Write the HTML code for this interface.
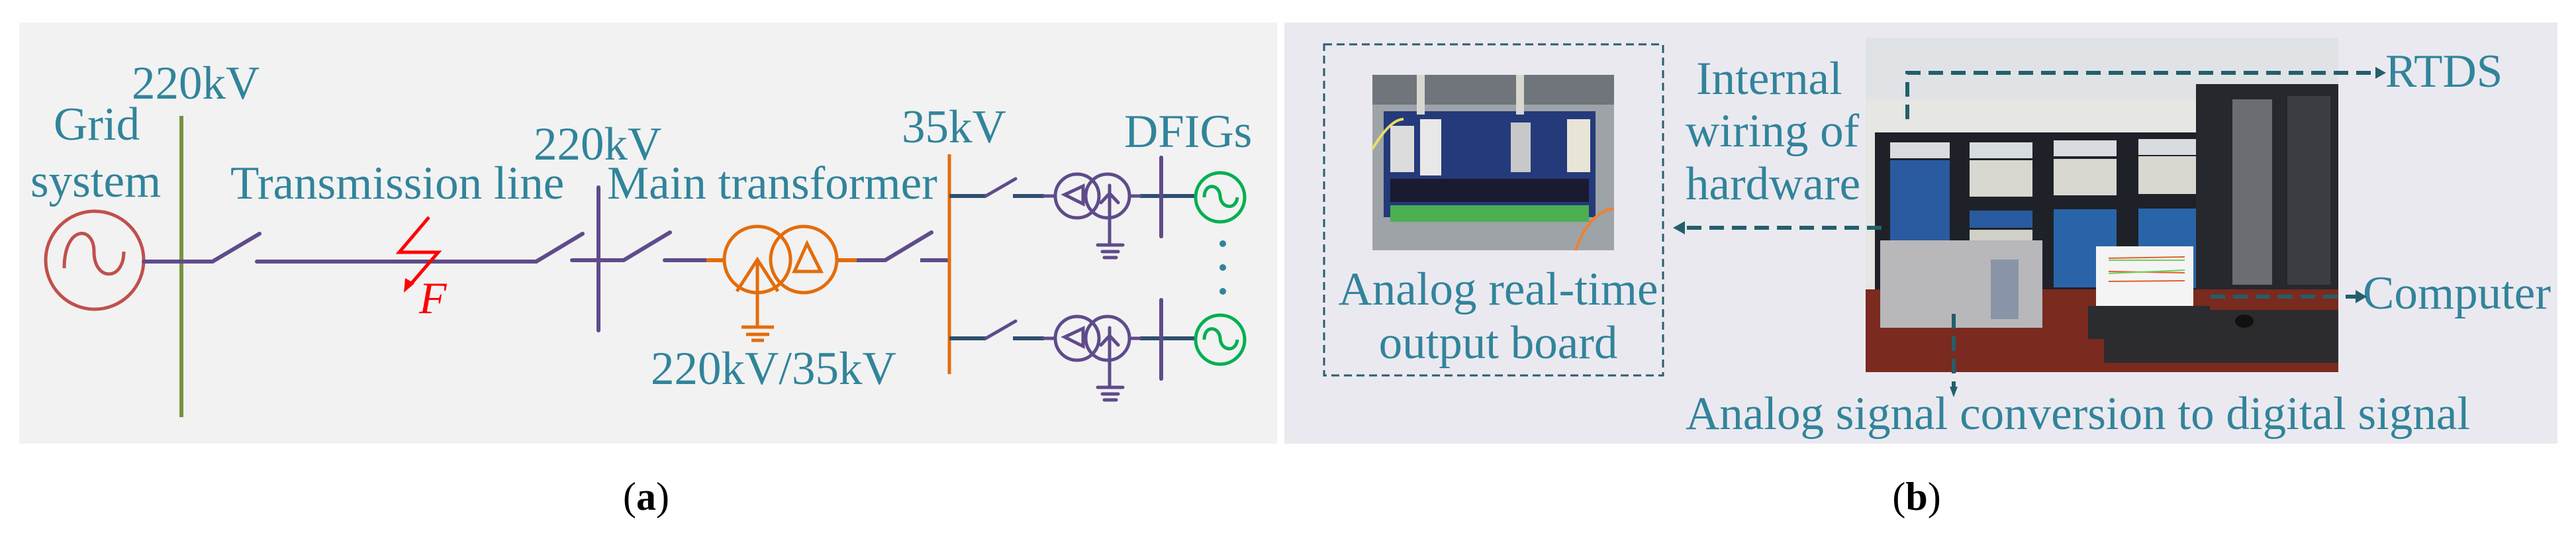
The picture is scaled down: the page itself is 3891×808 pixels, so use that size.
<!DOCTYPE html>
<html><head><meta charset="utf-8"><style>
html,body{margin:0;padding:0;background:#fff;}
svg{display:block;}
text{font-family:"Liberation Serif",serif;}
</style></head><body>
<svg width="3891" height="808" viewBox="0 0 3891 808" xmlns="http://www.w3.org/2000/svg">
<rect x="29" y="34" width="1900" height="636" fill="#f2f2f2"/>
<rect x="1940" y="34" width="1923" height="636" fill="#ebe9f0"/>

<g fill="#31849b" font-size="71">
<text x="199" y="149">220kV</text>
<text x="81" y="211">Grid</text>
<text x="46" y="297">system</text>
<text x="348" y="300">Transmission line</text>
<text x="806" y="241">220kV</text>
<text x="917" y="300">Main transformer</text>
<text x="1362" y="215">35kV</text>
<text x="1698" y="222">DFIGs</text>
<text x="983" y="580">220kV/35kV</text>
</g>

<!-- grid source -->
<circle cx="143" cy="393" r="74" fill="none" stroke="#c0504d" stroke-width="5"/>
<path d="M100 405 C100 340 145 340 145 380 C145 425 190 425 190 380" fill="none" stroke="#c0504d" stroke-width="5" transform="translate(-3,0)"/>
<line x1="274" y1="175" x2="274" y2="630" stroke="#77933c" stroke-width="6"/>

<g stroke="#5f4b8b" stroke-width="6" stroke-linecap="round" fill="none">
<line x1="217" y1="395" x2="321" y2="395"/>
<line x1="321" y1="395" x2="392" y2="353"/>
<line x1="388" y1="395" x2="810" y2="395"/>
<line x1="810" y1="395" x2="880" y2="353"/>
<line x1="904" y1="283" x2="904" y2="499"/>
<line x1="864" y1="393" x2="942" y2="393"/>
<line x1="942" y1="393" x2="1012" y2="351"/>
<line x1="1004" y1="393" x2="1067" y2="393"/>
<line x1="1294" y1="393" x2="1337" y2="393"/>
<line x1="1337" y1="393" x2="1407" y2="351"/>
</g>
<line x1="1390" y1="393" x2="1433" y2="393" stroke="#5f4b8b" stroke-width="6"/>

<!-- fault -->
<g stroke="#ff0000" stroke-width="5" fill="none">
<polyline points="648,328 603,381 662,381 618,432"/>
</g>
<polygon points="610,442 612,420 626,428" fill="#ff0000"/>
<text x="633" y="473" font-size="68" font-style="italic" fill="#ff0000">F</text>

<!-- main transformer -->
<g stroke="#e46c0a" stroke-width="5" fill="none">
<line x1="1067" y1="393" x2="1095" y2="393" stroke-width="6"/>
<line x1="1263" y1="393" x2="1294" y2="393" stroke-width="6"/>
<circle cx="1144" cy="392" r="50"/>
<circle cx="1214" cy="392" r="50"/>
<polyline points="1113,440 1144,392 1175,440"/>
<line x1="1144" y1="392" x2="1144" y2="494"/>
<line x1="1120" y1="494" x2="1169" y2="494"/>
<line x1="1127" y1="505" x2="1162" y2="505"/>
<line x1="1135" y1="514" x2="1154" y2="514"/>
<polygon points="1219,368 1200,410 1240,410"/>
<line x1="1434" y1="233" x2="1434" y2="565" stroke-width="5"/>
</g>

<!-- DFIG branches -->
<g id="br">
<g stroke="#2f4f6f" stroke-width="6">
<line x1="1434" y1="296" x2="1489" y2="296"/>
<line x1="1530" y1="296" x2="1577" y2="296"/>
<line x1="1722" y1="296" x2="1808" y2="296"/>
</g>
<g stroke="#5f4b8b" stroke-width="5" fill="none" stroke-linecap="round">
<line x1="1489" y1="296" x2="1534" y2="270"/>
<line x1="1577" y1="296" x2="1594" y2="296"/>
<line x1="1706" y1="296" x2="1722" y2="296"/>
<circle cx="1627" cy="296" r="33"/>
<circle cx="1673" cy="296" r="33"/>
<polygon points="1608,294 1636,281 1636,308"/>
<line x1="1676" y1="280" x2="1676" y2="370"/>
<polyline points="1663,306 1676,292 1689,306"/>
<line x1="1658" y1="370" x2="1696" y2="370"/>
<line x1="1665" y1="380" x2="1689" y2="380"/>
<line x1="1668" y1="389" x2="1686" y2="389"/>
<line x1="1754" y1="238" x2="1754" y2="357" stroke-width="6"/>
</g>
<g stroke="#00b050" stroke-width="5" fill="none">
<circle cx="1843" cy="298" r="37"/>
<path d="M1819 298 C1819 275 1842 278 1843 296 C1844 315 1867 318 1869 298"/>
</g>
</g>
<use href="#br" transform="translate(0,215)"/>
<g fill="#31849b">
<circle cx="1847" cy="368" r="5"/><circle cx="1847" cy="404" r="5"/><circle cx="1847" cy="440" r="5"/>
</g>

<text x="976" y="770" font-size="60" text-anchor="middle" fill="#000">(<tspan font-weight="bold">a</tspan>)</text>
<text x="2895" y="770" font-size="60" text-anchor="middle" fill="#000">(<tspan font-weight="bold">b</tspan>)</text>

<!-- right panel -->
<rect x="2000" y="67" width="512" height="500" fill="none" stroke="#2a5f6a" stroke-width="3" stroke-dasharray="12,7"/>
<!-- board photo -->
<rect x="2073" y="113" width="365" height="265" fill="#9ea3a8"/>
<rect x="2073" y="113" width="365" height="45" fill="#70757c"/>
<rect x="2090" y="168" width="320" height="160" fill="#243a7a"/>
<rect x="2100" y="190" width="36" height="70" fill="#dcdcdc"/>
<rect x="2145" y="180" width="32" height="85" fill="#e8e8e8"/>
<rect x="2282" y="185" width="30" height="75" fill="#c8c8c8"/>
<rect x="2367" y="180" width="35" height="80" fill="#e8e4d8"/>
<rect x="2140" y="113" width="12" height="60" fill="#d8d8d0"/>
<rect x="2290" y="113" width="12" height="60" fill="#d8d8d0"/>
<rect x="2100" y="270" width="300" height="35" fill="#1a1a30"/>
<rect x="2100" y="310" width="300" height="25" fill="#4caf50"/>
<path d="M2073 225 Q2100 180 2120 180" stroke="#e8e060" stroke-width="4" fill="none"/>
<path d="M2380 378 Q2400 320 2438 315" stroke="#f08030" stroke-width="4" fill="none"/>

<g fill="#31849b" font-size="71">
<text x="2263" y="460" text-anchor="middle">Analog real-time</text>
<text x="2263" y="541" text-anchor="middle">output board</text>
<text x="2562" y="142">Internal</text>
<text x="2546" y="221">wiring of</text>
<text x="2546" y="301">hardware</text>
<text x="3603" y="131">RTDS</text>
<text x="3569" y="466">Computer</text>
<text x="2546" y="648">Analog signal conversion to digital signal</text>
</g>

<!-- main photo -->
<rect x="2818" y="57" width="714" height="505" fill="#e6e6e2"/>
<rect x="2818" y="57" width="714" height="93" fill="#dfe3e6"/>
<rect x="2832" y="200" width="511" height="237" fill="#1e2228"/>
<rect x="2855" y="215" width="90" height="24" fill="#d8dce0"/>
<rect x="2975" y="215" width="95" height="24" fill="#d8dce0"/>
<rect x="3102" y="212" width="95" height="24" fill="#d8dce0"/>
<rect x="3230" y="210" width="95" height="24" fill="#d8dce0"/>
<rect x="2855" y="242" width="90" height="150" fill="#2a5aa0"/>
<rect x="2975" y="242" width="95" height="55" fill="#d8d8d0"/>
<rect x="2975" y="318" width="95" height="26" fill="#2a5aa0"/>
<rect x="2975" y="347" width="95" height="30" fill="#d0d0c8"/>
<rect x="3102" y="240" width="95" height="55" fill="#d8d8d0"/>
<rect x="3102" y="316" width="95" height="118" fill="#2a64a8"/>
<rect x="3230" y="236" width="95" height="57" fill="#d8d8d0"/>
<rect x="3230" y="315" width="95" height="120" fill="#2a64a8"/>
<rect x="3317" y="127" width="215" height="310" fill="#25282c"/>
<rect x="3372" y="150" width="60" height="280" fill="#6a6e72"/>
<rect x="3455" y="145" width="65" height="285" fill="#3a3e42"/>
<rect x="2818" y="437" width="714" height="125" fill="#7a2a1e"/>
<rect x="3178" y="468" width="354" height="80" fill="#2c2c2e"/>
<rect x="2840" y="363" width="245" height="132" fill="#b8b8ba"/>
<rect x="3007" y="392" width="42" height="90" fill="#8a94a8"/>
<rect x="3154" y="462" width="184" height="50" fill="#2a2c30"/>
<rect x="3166" y="372" width="147" height="90" fill="#f4f4f4"/>
<path d="M3185 390 L3300 388 M3185 410 L3300 412 M3185 425 L3300 424" stroke="#e06030" stroke-width="2"/>
<path d="M3185 393 L3300 393 M3185 413 L3300 408" stroke="#70d060" stroke-width="2"/>
<ellipse cx="3390" cy="485" rx="14" ry="10" fill="#111"/>

<!-- arrows -->
<g stroke="#235f6b" stroke-width="6" fill="none" stroke-dasharray="22,12">
<polyline points="2881,180 2881,110 3590,110"/>
<line x1="2842" y1="344" x2="2540" y2="344"/>
<line x1="3339" y1="448" x2="3560" y2="448"/>
<line x1="2951" y1="474" x2="2951" y2="588"/>
</g>
<g fill="#235f6b">
<polygon points="3604,110 3588,101 3588,119"/>
<polygon points="2527,344 2545,334 2545,354"/>
<polygon points="3575,448 3558,438 3558,458"/>
<polygon points="2951,600 2945,584 2957,584"/>
</g>
</svg>
</body></html>
